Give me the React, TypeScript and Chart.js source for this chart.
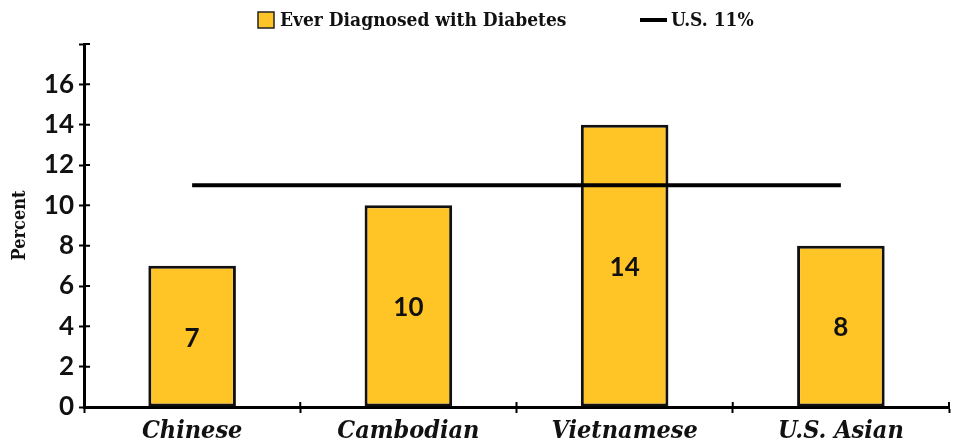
import { useEffect, useRef } from 'react';
import { Chart, registerables } from 'chart.js';

Chart.register(...registerables);

// Data
const groups = ['Chinese', 'Cambodian', 'Vietnamese', 'U.S. Asian'];
const diagnosedPct = [7, 10, 14, 8];
const usReference = [11, 11, 11, 11];
const yTickValues = [0, 2, 4, 6, 8, 10, 12, 14, 16, 18];
const yTickLabels = ['0', '2', '4', '6', '8', '10', '12', '14', '16', ''];
const seriesNames = ['Ever Diagnosed with Diabetes', 'U.S. 11%'];

const BAR_YELLOW = '#FFC425';
const NUM_FONT = 'Lato, "DejaVu Sans", sans-serif';
const SERIF_FONT = '"DejaVu Serif Condensed", "DejaVu Serif", serif';

// Short tick segments on the inside of both axes, so ticks cross the axis lines
const innerTicks = {
  id: 'innerTicks',
  afterDraw(chart: any) {
    const { ctx, chartArea, scales } = chart;
    const xs = scales.x;
    const ys = scales.y;
    ctx.save();
    ctx.strokeStyle = '#000';
    ctx.lineWidth = 2;
    ctx.beginPath();
    ys.ticks.forEach((t: any) => {
      const py = ys.getPixelForValue(t.value);
      ctx.moveTo(chartArea.left, py);
      ctx.lineTo(chartArea.left + 6, py);
    });
    const n = xs.ticks.length;
    const bounds = [chartArea.left];
    for (let i = 0; i < n - 1; i++) {
      bounds.push((xs.getPixelForTick(i) + xs.getPixelForTick(i + 1)) / 2);
    }
    bounds.push(chartArea.right);
    bounds.forEach((px: number) => {
      ctx.moveTo(px, chartArea.bottom);
      ctx.lineTo(px, chartArea.bottom - 5);
    });
    ctx.stroke();
    ctx.restore();
  },
};

// Value written in the middle of each bar
const barValues = {
  id: 'barValues',
  afterDatasetsDraw(chart: any) {
    const { ctx } = chart;
    chart.data.datasets.forEach((ds: any, di: number) => {
      if (ds.type !== 'bar') return;
      const meta = chart.getDatasetMeta(di);
      ctx.save();
      ctx.fillStyle = '#111';
      ctx.font = `bold 26px ${NUM_FONT}`;
      ctx.textAlign = 'center';
      ctx.textBaseline = 'middle';
      meta.data.forEach((el: any, i: number) => {
        const v = ds.data[i];
        const cy = (el.y + el.base) / 2;
        ctx.fillText(String(v), el.x, cy + 2);
      });
      ctx.restore();
    });
  },
};

// Legend row above the plot: filled square for the bars, a rule for the reference line
const topLegend = {
  id: 'topLegend',
  afterDraw(chart: any) {
    const { ctx } = chart;
    const bar = chart.data.datasets.find((d: any) => d.type === 'bar');
    const line = chart.data.datasets.find((d: any) => d.type === 'line');
    const cy = 20;
    ctx.save();
    ctx.font = `bold 19px ${SERIF_FONT}`;
    ctx.textBaseline = 'middle';
    ctx.textAlign = 'left';

    ctx.fillStyle = bar.backgroundColor;
    ctx.fillRect(258, cy - 8, 16, 16);
    ctx.strokeStyle = '#222';
    ctx.lineWidth = 1.5;
    ctx.strokeRect(258, cy - 8, 16, 16);
    ctx.fillStyle = '#111';
    ctx.fillText(bar.label, 280, cy + 1);

    ctx.strokeStyle = line.borderColor;
    ctx.lineWidth = 4;
    ctx.beginPath();
    ctx.moveTo(640, cy);
    ctx.lineTo(667, cy);
    ctx.stroke();
    ctx.fillText(line.label, 671, cy + 1);
    ctx.restore();
  },
};

function DiabetesChart() {
  const canvasRef = useRef<HTMLCanvasElement | null>(null);

  useEffect(() => {
    document.body.style.margin = '0';
    const canvas = canvasRef.current;
    if (!canvas) return;
    const chart = new Chart(canvas, {
      data: {
        labels: groups,
        datasets: [
          {
            type: 'line',
            label: seriesNames[1],
            data: usReference,
            borderColor: '#000',
            borderWidth: 4,
            pointRadius: 0,
            fill: false,
            order: 0,
          },
          {
            type: 'bar',
            label: seriesNames[0],
            data: diagnosedPct,
            backgroundColor: BAR_YELLOW,
            borderColor: '#111',
            borderWidth: 3,
            borderSkipped: false,
            barPercentage: 0.405,
            categoryPercentage: 1,
            order: 1,
          },
        ],
      } as any,
      options: {
        animation: false,
        responsive: false,
        maintainAspectRatio: false,
        layout: { padding: { top: 44, right: 8, left: 0, bottom: 0 } },
        plugins: {
          legend: { display: false },
          tooltip: { enabled: false },
        },
        scales: {
          x: {
            grid: {
              offset: true,
              drawOnChartArea: false,
              color: '#000',
              tickLength: 6,
              tickWidth: 2,
            },
            border: { color: '#000', width: 3 },
            ticks: {
              color: '#111',
              padding: 3,
              font: { family: SERIF_FONT, size: 25, weight: 'bold', style: 'italic' },
            },
            afterFit(scale: any) {
              scale.height = 39;
            },
          },
          y: {
            min: 0,
            max: 18,
            afterBuildTicks(scale: any) {
              scale.ticks = yTickValues.map((v) => ({ value: v }));
            },
            grid: {
              drawOnChartArea: false,
              color: '#000',
              tickLength: 5,
              tickWidth: 2,
            },
            border: { color: '#000', width: 3 },
            ticks: {
              color: '#111',
              padding: 5,
              font: { family: NUM_FONT, size: 26, weight: 'bold' },
              callback: (_v: any, i: number) => yTickLabels[i],
            },
            title: {
              display: true,
              text: 'Percent',
              color: '#111',
              padding: { top: 10, bottom: 0 },
              font: { family: SERIF_FONT, size: 18, weight: 'bold' },
            },
            afterFit(scale: any) {
              scale.width = 84;
            },
          },
        },
      } as any,
      plugins: [innerTicks, barValues, topLegend],
    });
    return () => chart.destroy();
  }, []);

  return (
    <div style={{ width: 957, height: 446 }}>
      <canvas ref={canvasRef} width={957} height={446} />
    </div>
  );
}

export default function App() {
  return <DiabetesChart />;
}
